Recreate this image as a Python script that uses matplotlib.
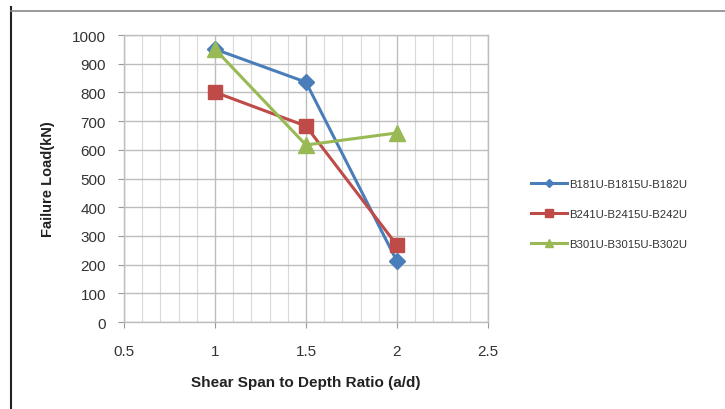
import numpy as np
import matplotlib.pyplot as plt
from matplotlib.lines import Line2D
from matplotlib.ticker import MultipleLocator

plt.rcParams['font.family'] = ['Liberation Sans', 'DejaVu Sans']

# Failure load vs shear span ratio for three beam groups
ratio = [1.0, 1.5, 2.0]
load_b18 = [951, 836, 212]
load_b24 = [801, 683, 268]
load_b30 = [951, 617, 659]
names = ["B181U-B1815U-B182U", "B241U-B2415U-B242U", "B301U-B3015U-B302U"]

fig = plt.figure(figsize=(7.25, 4.1), dpi=100)
ax = fig.add_axes([0.171, 0.212, 0.502, 0.700])

ax.plot(ratio, load_b18, color="#4a7ebb", lw=2.2, marker="D", ms=8, label=names[0], zorder=3)
ax.plot(ratio, load_b24, color="#be4b48", lw=2.2, marker="s", ms=10, label=names[1], zorder=3)
ax.plot(ratio, load_b30, color="#98b954", lw=2.2, marker="^", ms=11, label=names[2], zorder=4)

ax.set_xlim(0.5, 2.5)
ax.set_ylim(0, 1000)
ax.xaxis.set_major_locator(MultipleLocator(0.5))
ax.xaxis.set_minor_locator(MultipleLocator(0.1))
ax.yaxis.set_major_locator(MultipleLocator(100))
ax.xaxis.set_major_formatter(plt.FuncFormatter(lambda v, p: f"{v:g}"))

ax.grid(which="major", color="#bdbdbd", lw=1.0)
ax.grid(which="minor", axis="x", color="#d9d9d9", lw=0.8)
ax.set_axisbelow(True)
for s in ax.spines.values():
    s.set_color("#bdbdbd")
    s.set_linewidth(1.0)

ax.tick_params(which="major", length=4, color="#999999", labelsize=11, labelcolor="#333333")
ax.tick_params(axis="x", which="major", pad=12)
ax.tick_params(axis="y", which="major", pad=9)
ax.tick_params(which="minor", length=0)

ax.set_xlabel("Shear Span to Depth Ratio (a/d)", fontsize=11, fontweight="bold", color="#222222", labelpad=12)
ax.set_ylabel("Failure Load(kN)", fontsize=10.5, fontweight="bold", color="#222222", labelpad=12)

leg = ax.legend(loc="center left", bbox_to_anchor=(0.718, 0.475), bbox_transform=fig.transFigure,
                frameon=False, fontsize=8.2, markerscale=0.55, handlelength=3.2,
                labelspacing=1.75, handletextpad=0.15)
for t in leg.get_texts():
    t.set_color("#333333")

# outer chart border pieces
fig.add_artist(Line2D([0.0152, 0.0152], [0.0, 0.98], color="#222222", lw=1.5))
fig.add_artist(Line2D([0.0152, 1.0], [0.971, 0.971], color="#888888", lw=1.2))

fig.savefig("out.png", dpi=100)
